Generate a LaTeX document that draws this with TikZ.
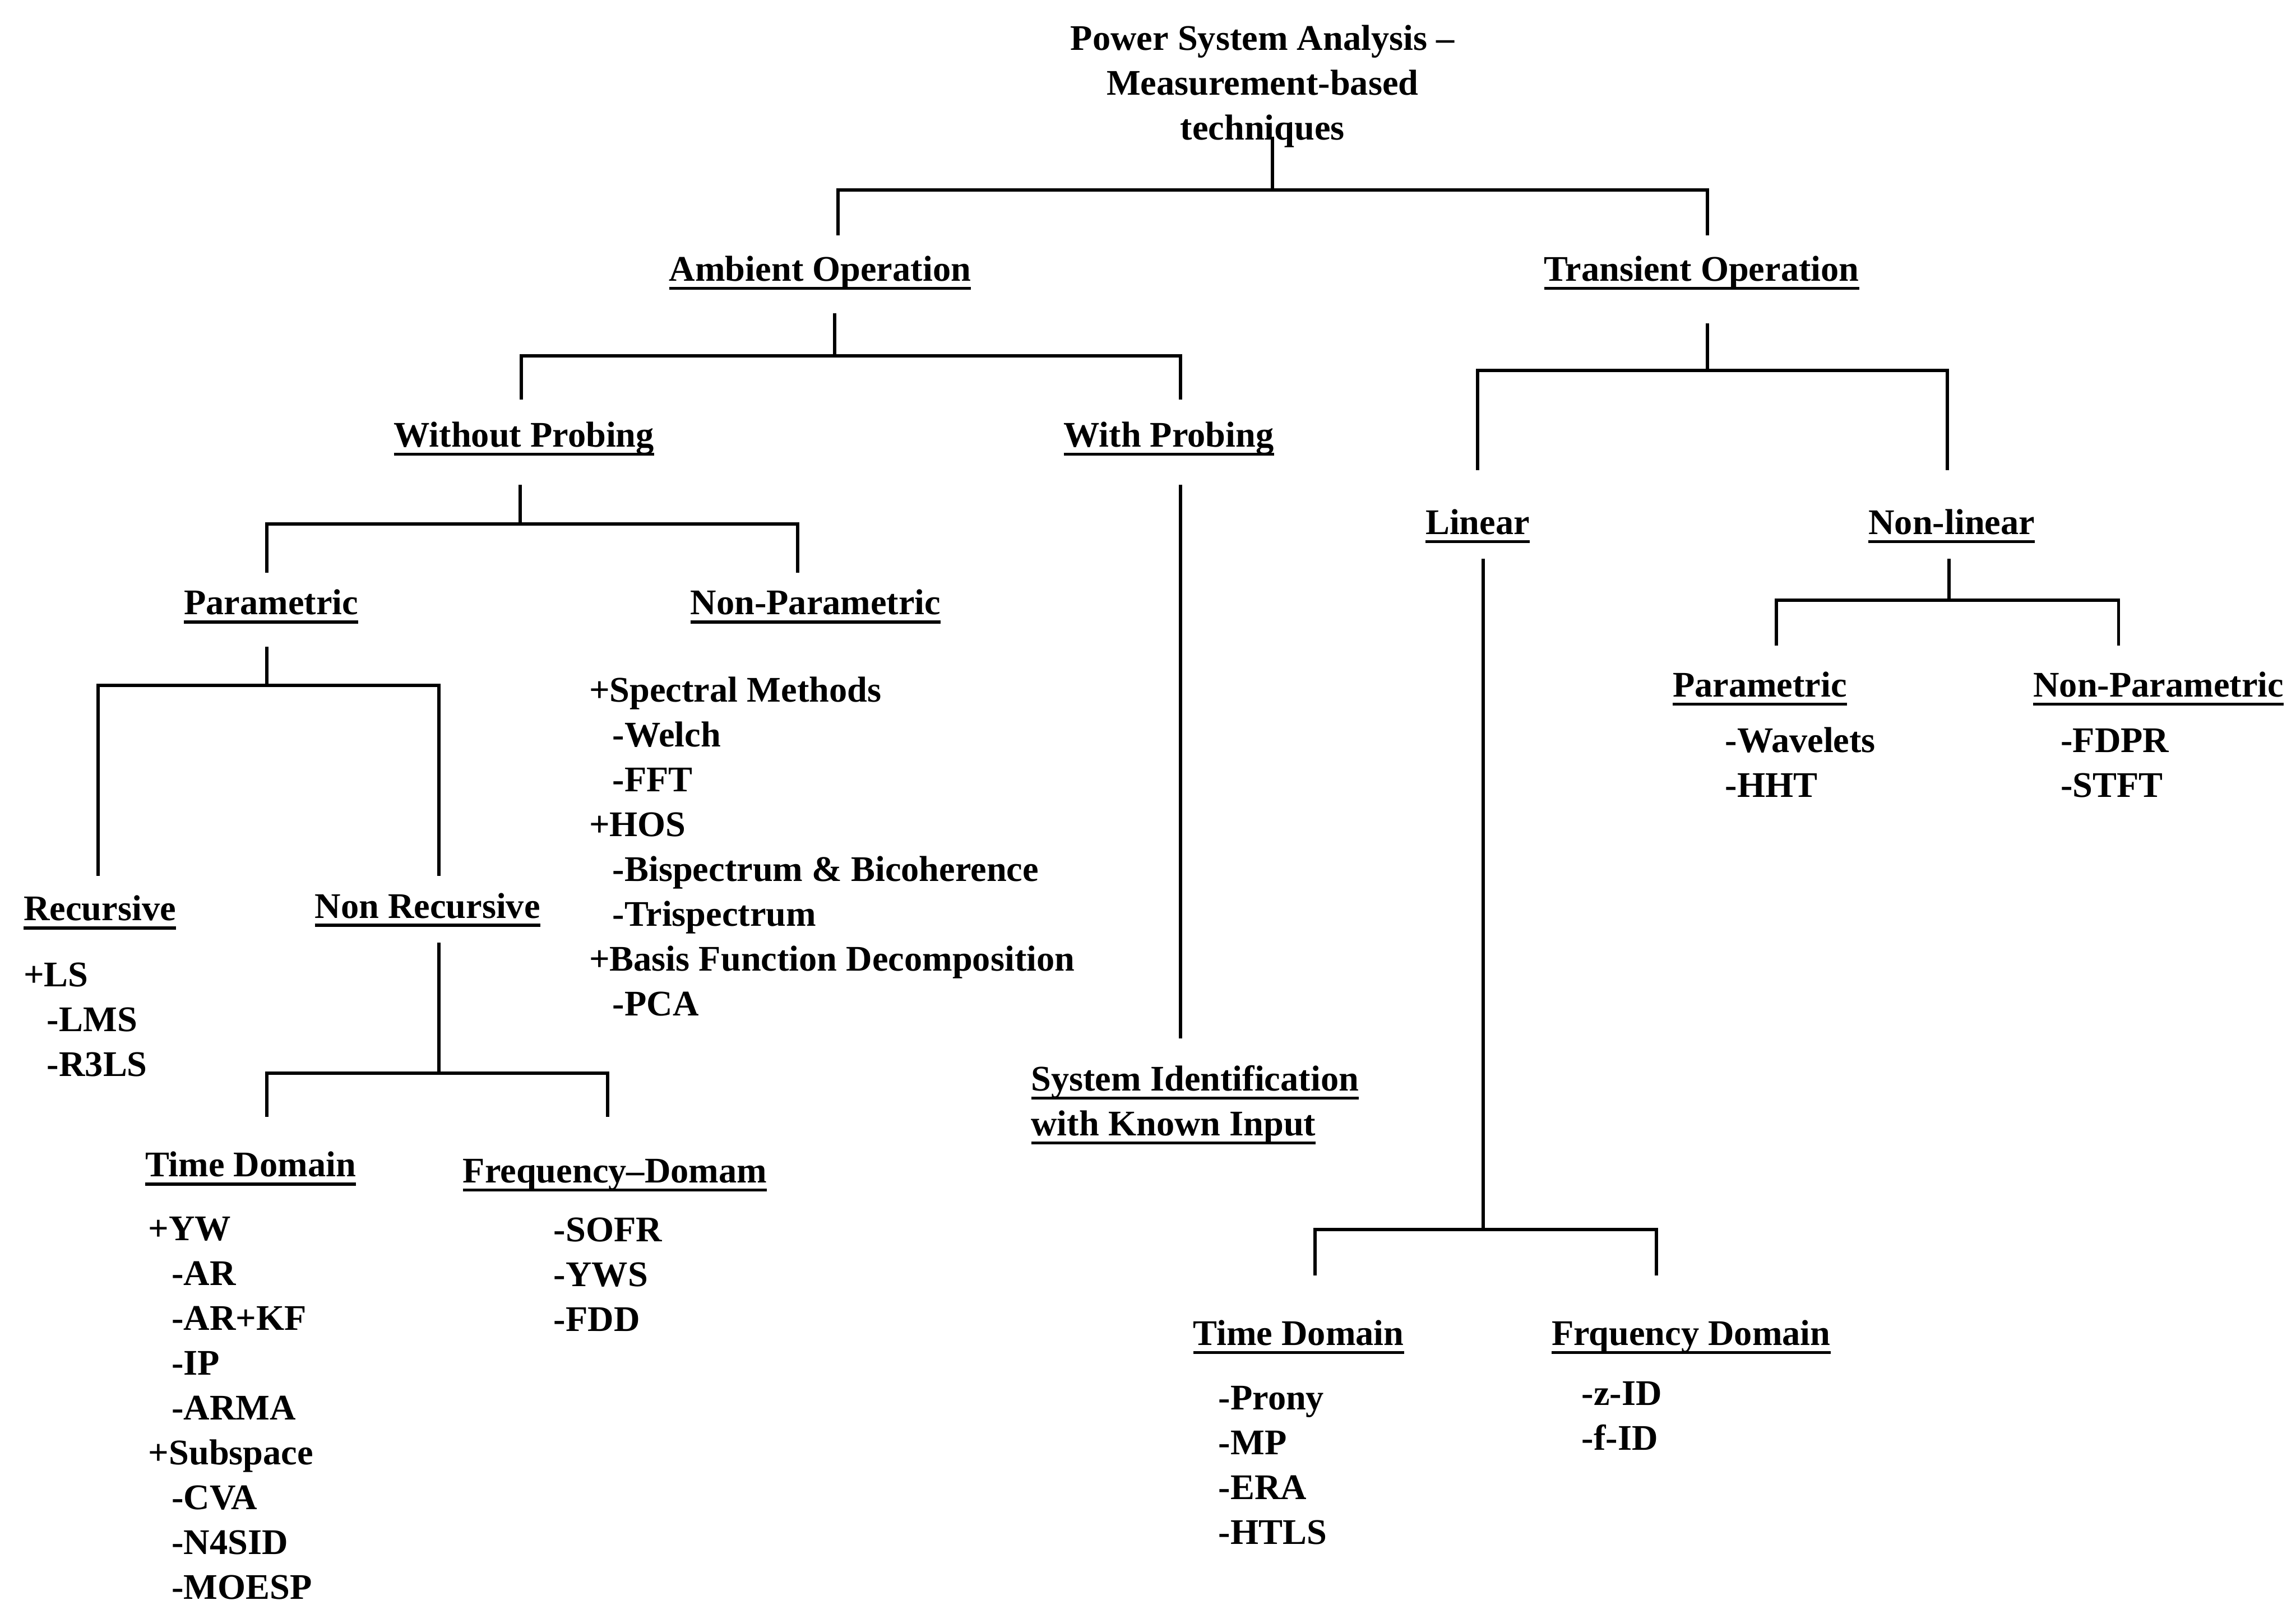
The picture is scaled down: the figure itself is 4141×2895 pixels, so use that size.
\documentclass[tikz,border=0pt]{standalone}
\usepackage{fontspec}
\setmainfont{Liberation Serif}
\newcommand\ulx[1]{\setbox0\hbox{#1}\leavevmode\rlap{\vrule height -3pt depth 4.5pt width \wd0}\box0}
\newcommand\ind{\hspace*{12pt}}
\begin{document}
\begin{tikzpicture}[x=0.01cm,y=-0.01cm,
  every node/.style={inner sep=0pt, font=\fontsize{18.5}{23}\selectfont\bfseries},
  head/.style={anchor=base},
  lst/.style={anchor=base west, align=left},
  tree/.style={line width=1.7pt, line cap=rect}]
\useasboundingbox (0,0) rectangle (4141,2895);
% title (anchor = baseline of last line)
\node[head, align=center] (title) at (2277,252) {Power System Analysis –\\Measurement-based\\techniques};
% level 1
\node[head] (amb) at (1479,507) {\ulx{Ambient Operation}};
\node[head] (tra) at (3069,507) {\ulx{Transient Operation}};
% ambient
\node[head] (wop) at (945,806) {\ulx{Without Probing}};
\node[head] (wip) at (2108,806) {\ulx{With Probing}};
\node[head] (par) at (489,1109) {\ulx{Parametric}};
\node[head] (npar) at (1471,1109) {\ulx{Non-Parametric}};
\node[anchor=base west] (rec) at (42,1661) {\ulx{Recursive}};
\node[head] (nrec) at (771,1656) {\ulx{Non Recursive}};
\node[lst] (reclist) at (42,1942) {+LS\\\ind-LMS\\\ind-R3LS};
\node[head] (tdl) at (452,2123) {\ulx{Time Domain}};
\node[head] (fdl) at (1109,2134) {\ulx{Frequency–Domam}};
\node[lst] (tdllist) at (267,2885) {+YW\\\ind-AR\\\ind-AR+KF\\\ind-IP\\\ind-ARMA\\+Subspace\\\ind-CVA\\\ind-N4SID\\\ind-MOESP};
\node[lst] (fdllist) at (998,2402) {-SOFR\\-YWS\\-FDD};
\node[lst] (nplist) at (1062,1832) {+Spectral Methods\\\ind-Welch\\\ind-FFT\\+HOS\\\ind-Bispectrum \& Bicoherence\\\ind-Trispectrum\\+Basis Function Decomposition\\\ind-PCA};
\node[lst] (sysid) at (1859,2049) {\ulx{System Identification}\\\ulx{with Known Input}};
% transient
\node[head] (lin) at (2665,964) {\ulx{Linear}};
\node[head] (nlin) at (3520,964) {\ulx{Non-linear}};
\node[head] (tdr) at (2342,2427) {\ulx{Time Domain}};
\node[head] (fdr) at (3050,2427) {\ulx{Frquency Domain}};
\node[lst] (tdrlist) at (2197,2786) {-Prony\\-MP\\-ERA\\-HTLS};
\node[lst] (fdrlist) at (2852,2616) {-z-ID\\-f-ID};
\node[head] (parr) at (3174,1257) {\ulx{Parametric}};
\node[head] (nparr) at (3893,1257) {\ulx{Non-Parametric}};
\node[lst] (parrlist) at (3111,1438) {-Wavelets\\-HHT};
\node[lst] (nparrlist) at (3716,1438) {-FDPR\\-STFT};
% connectors
\coordinate (s0) at (2295,250); \coordinate (b0) at (2295,343);
\coordinate (l0) at (1511,422); \coordinate (r0) at (3079,422);
\coordinate (s1) at (1505,568); \coordinate (b1) at (1505,642);
\coordinate (l1) at (940,718);  \coordinate (r1) at (2129,718);
\coordinate (s2) at (938,877);  \coordinate (b2) at (938,945);
\coordinate (l2) at (481,1030); \coordinate (r2) at (1439,1030);
\coordinate (s3) at (481,1170); \coordinate (b3) at (481,1236);
\coordinate (l3) at (177,1577); \coordinate (r3) at (792,1577);
\coordinate (s4) at (792,1703); \coordinate (b4) at (792,1936);
\coordinate (l4) at (481,2012); \coordinate (r4) at (1096,2012);
\coordinate (sw) at (2129,877); \coordinate (ew) at (2129,1870);
\coordinate (s5) at (3079,586); \coordinate (b5) at (3079,668);
\coordinate (l5) at (2665,845); \coordinate (r5) at (3512,845);
\coordinate (s6) at (2675,1011); \coordinate (b6) at (2675,2218);
\coordinate (l6) at (2372,2298); \coordinate (r6) at (2987,2298);
\coordinate (s7) at (3515,1011); \coordinate (b7) at (3515,1083);
\coordinate (l7) at (3204,1162); \coordinate (r7) at (3821,1162);
\draw[tree] (s0) -- (b0); \draw[tree] (l0) |- (b0) -| (r0);
\draw[tree] (s1) -- (b1); \draw[tree] (l1) |- (b1) -| (r1);
\draw[tree] (s2) -- (b2); \draw[tree] (l2) |- (b2) -| (r2);
\draw[tree] (s3) -- (b3); \draw[tree] (l3) |- (b3) -| (r3);
\draw[tree] (s4) -- (b4); \draw[tree] (l4) |- (b4) -| (r4);
\draw[tree] (sw) -- (ew);
\draw[tree] (s5) -- (b5); \draw[tree] (l5) |- (b5) -| (r5);
\draw[tree] (s6) -- (b6); \draw[tree] (l6) |- (b6) -| (r6);
\draw[tree] (s7) -- (b7); \draw[tree] (l7) |- (b7) -| (r7);
\end{tikzpicture}
\end{document}
